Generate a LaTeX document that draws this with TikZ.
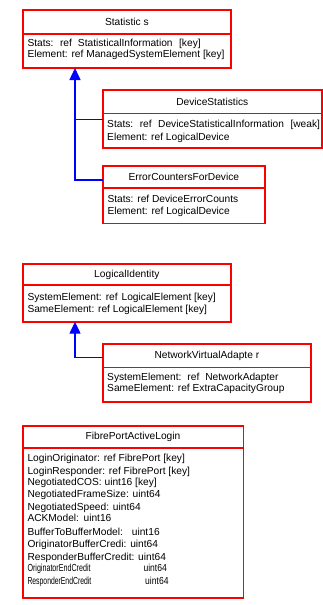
\documentclass[tikz,border=0pt]{standalone}
\usepackage{fontspec}
\setmainfont{Liberation Sans}
\usepackage{graphicx}
\usetikzlibrary{arrows.meta}
\begin{document}
\begin{tikzpicture}[x=1pt,y=-1pt,
  part/.style={draw=red, line width=1.6pt, inner sep=0pt, outer sep=0pt, anchor=north west, font=\fontsize{10.2}{12}\selectfont},
  bt/.style={anchor=base west, inner sep=0pt, font=\fontsize{10.2}{12}\selectfont},
  inh/.style={draw=blue, line width=1.4pt},
  tip/.style={-{Triangle[width=11pt,length=12pt]}}]
\fill[white] (0,0) rectangle (323,605);
\useasboundingbox (0,0) rectangle (323,605);

% Statistics
\node[part, minimum width=208.3pt, minimum height=23.7pt] (stT) at (22.7,10) {Statistic s};
\node[part, minimum width=208.3pt, minimum height=34.3pt] (stB) at (22.7,33.7) {};
\node[bt] (st1) at (27.3,46.3) {Stats:\hspace{6.5pt}ref\hspace{6pt}StatisticalInformation\hspace{6.5pt}[key]};
\node[bt] (st2) at (27.3,57.6) {Element: ref ManagedSystemElement [key]};

% DeviceStatistics
\node[part, minimum width=219.1pt, minimum height=23.3pt] (dsT) at (102.7,90) {DeviceStatistics};
\node[part, minimum width=219.1pt, minimum height=34.4pt] (dsB) at (102.7,113.3) {};
\node[bt] (ds1) at (107,127.9) {Stats:\hspace{6.5pt}ref\hspace{6.5pt}DeviceStatisticalInformation\hspace{6.5pt}[weak]};
\node[bt] (ds2) at (107,140.3) {Element: ref LogicalDevice};

% ErrorCountersForDevice
\node[part, minimum width=162.3pt, minimum height=22.3pt] (ecT) at (102.7,165.7) {ErrorCountersForDevice};
\node[part, minimum width=162.3pt, minimum height=35.3pt] (ecB) at (102.7,188) {};
\node[bt] (ec1) at (107.3,202.6) {Stats: ref DeviceErrorCounts};
\node[bt] (ec2) at (107.3,214.3) {Element: ref LogicalDevice};

% inheritance arrows (statistics)
\coordinate (stA) at ([xshift=52.3pt]stB.south west);
\draw[inh, tip] ([yshift=-3pt]ecT.west) -| (stA);
\draw[inh] ([yshift=-6pt]dsB.north west) coordinate (dj) -- (dj -| stA);

% LogicalIdentity
\node[part, minimum width=208.3pt, minimum height=21pt] (liT) at (22.7,264) {LogicalIdentity};
\node[part, minimum width=208.3pt, minimum height=36.7pt] (liB) at (22.7,285) {};
\node[bt] (li1) at (27.3,300.3) {SystemElement:\hspace{4pt}ref\hspace{4pt}LogicalElement [key]};
\node[bt] (li2) at (27.3,312.9) {SameElement: ref LogicalElement [key]};

% NetworkVirtualAdapter
\node[part, minimum width=208.3pt, minimum height=23.3pt] (nvT) at (102.7,344) {NetworkVirtualAdapte r};
\node[part, minimum width=208.3pt, minimum height=34.4pt] (nvB) at (102.7,367.3) {};
\node[bt] (nv1) at (107,380.3) {SystemElement:\hspace{6pt}ref\hspace{6pt}NetworkAdapter};
\node[bt] (nv2) at (107,391.9) {SameElement: ref ExtraCapacityGroup};

\coordinate (liA) at ([xshift=52.3pt]liB.south west);
\draw[inh, tip] ([yshift=-2pt]nvT.west) -| (liA);

% FibrePortActiveLogin
\node[part, minimum width=220.6pt, minimum height=22pt] (fpT) at (22.7,425.7) {FibrePortActiveLogin};
\node[part, minimum width=220.6pt, minimum height=150pt] (fpB) at (22.7,447.7) {};
\node[bt] (fp1) at (27.3,461.9) {LoginOriginator: ref FibrePort [key]};
\node[bt] (fp2) at (27.3,474.3) {LoginResponder: ref FibrePort [key]};
\node[bt] (fp3) at (27.3,485.9) {NegotiatedCOS: uint16 [key]};
\node[bt] (fp4) at (27.3,497.6) {NegotiatedFrameSize: uint64};
\node[bt] (fp5) at (27.3,510.3) {NegotiatedSpeed: uint64};
\node[bt] (fp6) at (27.3,521.9) {ACKModel:\hspace{4.5pt}uint16};
\node[bt] (fp7) at (27.3,535.9) {\makebox[104.4pt][l]{BufferToBufferModel:}uint16};
\node[bt] (fp8) at (27.3,547.9) {OriginatorBufferCredi: uint64};
\node[bt] (fp9) at (27.3,560.3) {ResponderBufferCredit: uint64};
\node[bt] (fp10) at (27.3,571.9) {\makebox[116pt][l]{\scalebox{0.7}[1]{OriginatorEndCredit}}\scalebox{0.84}[1]{uint64}};
\node[bt] (fp11) at (27.3,584.3) {\makebox[117.7pt][l]{\scalebox{0.67}[1]{ResponderEndCredit}}\scalebox{0.84}[1]{uint64}};
\end{tikzpicture}
\end{document}
